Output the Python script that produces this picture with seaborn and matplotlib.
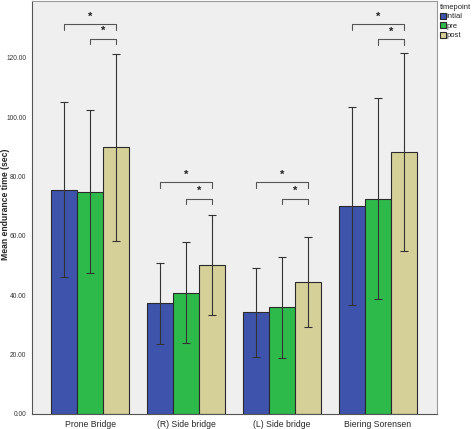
import pandas as pd
import matplotlib
matplotlib.use("Agg")
import matplotlib.pyplot as plt
import seaborn as sns

# data
exercises = ["Prone Bridge", "(R) Side bridge", "(L) Side bridge", "Biering Sorensen"]
timepoints = ["intial", "pre", "post"]
mean_initial = [75.5, 37.3, 34.2, 70.1]
mean_pre = [74.9, 40.9, 36.0, 72.6]
mean_post = [89.8, 50.2, 44.4, 88.2]
low_initial = [46.0, 23.5, 19.1, 36.7]
low_pre = [47.5, 23.8, 18.8, 38.8]
low_post = [58.3, 33.5, 29.2, 54.9]
high_initial = [105.1, 51.0, 49.1, 103.6]
high_pre = [102.5, 57.9, 52.9, 106.6]
high_post = [121.3, 67.0, 59.6, 121.7]
# significance brackets: (initial vs post) and (pre vs post) heights
bracket_big = [131.3, 78.2, 78.2, 131.3]
bracket_small = [126.5, 72.6, 72.6, 126.3]

colors = ["#3E54AC", "#2EBA4B", "#D5CF98"]

rows = []
for tp, means in zip(timepoints, [mean_initial, mean_pre, mean_post]):
    for ex, m in zip(exercises, means):
        rows.append({"exercise": ex, "timepoint": tp, "mean": m})
df = pd.DataFrame(rows)

sns.set_style("white")
plt.rcParams["font.family"] = ["Liberation Sans", "DejaVu Sans"]
fig = plt.figure(figsize=(4.72, 4.29), dpi=100)
ax = fig.add_axes([0.067, 0.035, 0.858, 0.963])
ax.set_facecolor("#EFEFEF")

sns.barplot(data=df, x="exercise", y="mean", hue="timepoint", palette=colors,
            errorbar=None, width=0.81, edgecolor="#2a2a2a", linewidth=0.8,
            saturation=1, ax=ax)

lows = [low_initial, low_pre, low_post]
highs = [high_initial, high_pre, high_post]
means_all = [mean_initial, mean_pre, mean_post]
bar_conts = list(ax.containers)
centers = []
for i, cont in enumerate(bar_conts):
    xs = [b.get_x() + b.get_width() / 2 for b in cont]
    centers.append(xs)
    lo = [m - l for m, l in zip(means_all[i], lows[i])]
    hi = [h - m for m, h in zip(means_all[i], highs[i])]
    ax.errorbar(xs, means_all[i], yerr=[lo, hi], fmt="none", ecolor="#333333",
                elinewidth=0.8, capsize=3, capthick=0.8)

leg = 1.9
for j in range(len(exercises)):
    x0, x1, x2 = centers[0][j], centers[1][j], centers[2][j]
    for xa, h in [(x0, bracket_big[j]), (x1, bracket_small[j])]:
        ax.plot([xa, xa, x2, x2], [h - leg, h, h, h - leg], color="#555555", lw=0.8)
        ax.text((xa + x2) / 2, h + 0.8, "*", ha="center", va="bottom",
                fontsize=8, fontweight="bold", color="#222222")

ax.set_xlim(-0.61, 3.61)
ax.set_ylim(0, 139.2)
ax.set_yticks([0, 20, 40, 60, 80, 100, 120])
ax.set_yticklabels(["%.2f" % v for v in [0, 20, 40, 60, 80, 100, 120]], fontsize=4.8)
ax.tick_params(axis="x", labelsize=6.2, length=3, pad=1, color="#555555")
ax.tick_params(axis="y", length=3, pad=1, color="#555555", labelcolor="#333333")
ax.set_xlabel("")
ax.set_ylabel("")
fig.text(6 / 472, 1 - 204 / 429, "Mean endurance time (sec)", rotation=90,
         ha="center", va="center", fontsize=6.2, fontweight="bold")
for s in ["left", "bottom"]:
    ax.spines[s].set_color("#555555")
for s in ["top", "right"]:
    ax.spines[s].set_color("#999999")
for s in ax.spines.values():
    s.set_linewidth(0.8)

ax.legend(title="timepoint", loc="upper left", bbox_to_anchor=(1.0, 1.0),
          frameon=False, fontsize=5.5, title_fontsize=5.5, handlelength=0.8,
          handleheight=0.8, handletextpad=0.15, labelspacing=0.25, borderaxespad=0.2,
          borderpad=0.2, alignment="left")

fig.savefig("out.png", dpi=100)
